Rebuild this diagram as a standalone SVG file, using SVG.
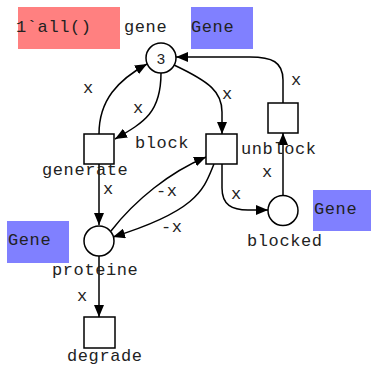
<svg xmlns="http://www.w3.org/2000/svg" width="371" height="366" viewBox="0 0 371 366">
  <defs>
    <marker id="arrow" markerWidth="12" markerHeight="10" refX="12" refY="5" orient="auto" markerUnits="userSpaceOnUse">
      <path d="M0,0 L12,5 L0,10 z" fill="#000"/>
    </marker>
    <style>
      text { font-family: "Liberation Mono", "Courier New", monospace; font-size: 17px; letter-spacing: 0.6px; fill: #222; }
      .tok { font-family: "Liberation Sans", Arial, sans-serif; font-size: 15px; letter-spacing: 0; text-anchor: middle; }
      .place { fill: #fff; stroke: #000; stroke-width: 1.5; }
      .trans { fill: #fff; stroke: #000; stroke-width: 1.5; }
      .arc { fill: none; stroke: #000; stroke-width: 1.5; marker-end: url(#arrow); }
      .colset { fill: #8080ff; }
      .init { fill: #ff8080; }
    </style>
  </defs>

  <!-- arcs -->
  <g id="arcs">
    <path class="arc" d="M99,134 C99,100 118,80 147,64"/>
    <path class="arc" d="M161,73 C161,112 145,122 115,139"/>
    <path class="arc" d="M174,65 C210,82 222,92 222,112 L222,134"/>
    <path class="arc" d="M283,103 L283,80 C283,62 272,57 250,57 L176,57"/>
    <path class="arc" d="M99,164 L99,225"/>
    <path class="arc" d="M111,231 C135,200 170,172 206,157"/>
    <path class="arc" d="M214,164 C204,188 200,210 113,237"/>
    <path class="arc" d="M222,164 L222,188 C222,205 232,210 248,210 L268,210"/>
    <path class="arc" d="M283,195 L283,133"/>
    <path class="arc" d="M99,256 L99,317"/>
    <text x="83" y="93">x</text>
    <text x="133" y="113">x</text>
    <text x="222" y="99">x</text>
    <text x="291" y="85">x</text>
    <text x="103" y="194">x</text>
    <text x="156" y="196">-x</text>
    <text x="161" y="232">-x</text>
    <text x="231" y="199">x</text>
    <text x="262" y="177">x</text>
    <text x="77" y="301">x</text>
  </g>

  <!-- place: gene -->
  <g id="gene">
    <rect class="init" x="18" y="7" width="102" height="42"/>
    <text x="16" y="32">1`all()</text>
    <rect class="colset" x="191" y="7" width="62" height="42"/>
    <text x="191" y="32">Gene</text>
    <text x="124" y="32">gene</text>
    <circle class="place" cx="161" cy="58" r="15"/>
    <text class="tok" x="161" y="64">3</text>
  </g>

  <!-- place: blocked -->
  <g id="blocked">
    <circle class="place" cx="283" cy="210.5" r="15"/>
    <rect class="colset" x="313" y="190" width="58" height="41"/>
    <text x="314" y="214">Gene</text>
    <text x="247" y="246">blocked</text>
  </g>

  <!-- place: proteine -->
  <g id="proteine">
    <circle class="place" cx="99" cy="241" r="15"/>
    <rect class="colset" x="7" y="221" width="62" height="42"/>
    <text x="8" y="245">Gene</text>
    <text x="52" y="275">proteine</text>
  </g>

  <!-- transitions -->
  <g id="generate">
    <rect class="trans" x="84" y="134" width="30" height="30"/>
    <text x="42" y="175">generate</text>
  </g>
  <g id="block">
    <rect class="trans" x="206" y="134" width="31" height="30"/>
    <text x="135" y="148">block</text>
  </g>
  <g id="unblock">
    <rect class="trans" x="268" y="103" width="30" height="30"/>
    <text x="241" y="154">unblock</text>
  </g>
  <g id="degrade">
    <rect class="trans" x="84" y="317" width="31" height="31"/>
    <text x="67" y="361">degrade</text>
  </g>
</svg>
